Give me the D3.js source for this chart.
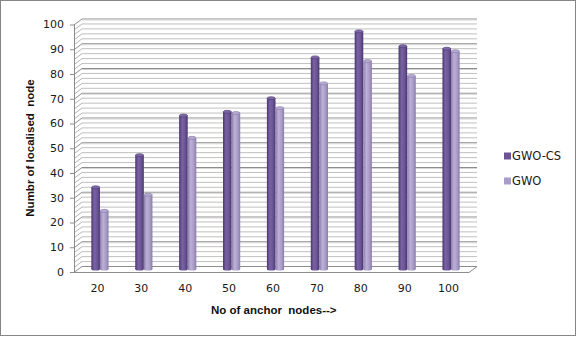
<!DOCTYPE html>
<html>
<head>
<meta charset="utf-8">
<script src="https://cdn.jsdelivr.net/npm/d3@7"></script>
<style>
    body { margin: 0; background: #fff; }
    svg { display: block; }
    .pre { white-space: pre; }
</style>
</head>
<body>
<div id="chart"></div>
<script>
// ----------------------
// Data
// ----------------------
const anchorNodes = ["20", "30", "40", "50", "60", "70", "80", "90", "100"];
const seriesNames = ["GWO-CS", "GWO"];
const gwoCs = [33, 46, 62, 63.5, 69, 85.5, 96, 90, 89];
const gwo = [23.5, 30, 53, 63, 65, 75, 84, 78, 88];
const yTicks = [0, 10, 20, 30, 40, 50, 60, 70, 80, 90, 100];

// ----------------------
// Draw 3D-ish column chart
// ----------------------
function createChart() {
    const width = 577;
    const height = 337;

    // depth of the 3D box (back wall offset)
    const dx = 8, dy = -6;

    const svg = d3.select("#chart")
        .append("svg")
        .attr("width", width)
        .attr("height", height);

    // outer border
    svg.append("rect")
        .attr("x", 0.5).attr("y", 0.5)
        .attr("width", 575).attr("height", 335)
        .attr("fill", "#fff")
        .attr("stroke", "#868686");

    // Scales (front plane)
    const x = d3.scaleBand().domain(anchorNodes).range([74, 469]);
    const y = d3.scaleLinear().domain([0, 100]).range([272, 24.5]);

    // gridlines every 2 units, majors every 10
    const gridVals = d3.range(0, 101, 2);
    const grid = svg.append("g");

    gridVals.forEach(v => {
        const major = v % 10 === 0;
        const yb = y(v) + dy;
        // back wall
        grid.append("line")
            .attr("x1", 74 + dx).attr("x2", 469 + dx)
            .attr("y1", yb + 0.5).attr("y2", yb + 0.5)
            .attr("stroke", major ? "#8c8c8c" : "#c0c0c0");
        if (major && v > 0) {
            grid.append("line")
                .attr("x1", 74 + dx).attr("x2", 469 + dx)
                .attr("y1", yb + 1.5).attr("y2", yb + 1.5)
                .attr("stroke", "#d6d6d6");
        }
        // side wall diagonal
        grid.append("line")
            .attr("x1", 74).attr("y1", y(v) + 0.5)
            .attr("x2", 74 + dx).attr("y2", yb + 0.5)
            .attr("stroke", major ? "#8c8c8c" : "#b4b4b4");
    });

    // floor front edge + right edge
    svg.append("line")
        .attr("x1", 74).attr("x2", 469)
        .attr("y1", y(0) + 0.5).attr("y2", y(0) + 0.5)
        .attr("stroke", "#8c8c8c");
    svg.append("line")
        .attr("x1", 469).attr("y1", y(0) + 0.5)
        .attr("x2", 469 + dx).attr("y2", y(0) + dy + 0.5)
        .attr("stroke", "#8c8c8c");

    // y axis line and ticks
    svg.append("line")
        .attr("x1", 74.5).attr("x2", 74.5)
        .attr("y1", y(100)).attr("y2", y(0))
        .attr("stroke", "#8c8c8c");

    const yAxis = svg.append("g");
    yTicks.forEach(t => {
        yAxis.append("line")
            .attr("x1", 70).attr("x2", 74)
            .attr("y1", y(t) + 0.5).attr("y2", y(t) + 0.5)
            .attr("stroke", "#8c8c8c");
        yAxis.append("text")
            .attr("x", 64).attr("y", y(t))
            .attr("dy", "0.35em")
            .attr("text-anchor", "end")
            .attr("font-family", "DejaVu Sans, Verdana, sans-serif")
            .attr("font-size", 11)
            .attr("fill", "#1a1a1a")
            .text(t);
    });

    // x labels
    svg.append("g").selectAll("text")
        .data(anchorNodes)
        .enter()
        .append("text")
        .attr("x", d => x(d) + x.bandwidth() / 2 + 1.5)
        .attr("y", 288)
        .attr("dy", "0.35em")
        .attr("text-anchor", "middle")
        .attr("font-family", "DejaVu Sans, Verdana, sans-serif")
        .attr("font-size", 11)
        .attr("fill", "#1a1a1a")
        .text(d => d);

    // gradients for cylinders
    const defs = svg.append("defs");
    const colors = [
        { id: "gcs", edge: "#4a3672", mid: "#7a63a3", base: "#6a5494", top: "#7e68a6", stroke: "#4f3b78" },
        { id: "g", edge: "#8a7cab", mid: "#bcb1d6", base: "#a99cc8", top: "#b7acd2", stroke: "#8b7dab" }
    ];
    colors.forEach(c => {
        const lg = defs.append("linearGradient")
            .attr("id", c.id)
            .attr("x1", "0%").attr("x2", "100%")
            .attr("y1", "0%").attr("y2", "0%");
        lg.append("stop").attr("offset", "0%").attr("stop-color", c.edge);
        lg.append("stop").attr("offset", "35%").attr("stop-color", c.mid);
        lg.append("stop").attr("offset", "70%").attr("stop-color", c.base);
        lg.append("stop").attr("offset", "100%").attr("stop-color", c.edge);
    });

    // bars (cylinders) sit at mid depth
    const barW = 8.6;
    const series = [gwoCs, gwo];
    const bars = svg.append("g");

    series.forEach((vals, s) => {
        const c = colors[s];
        const g = bars.append("g");
        const items = anchorNodes.map((d, i) => ({ cat: d, v: vals[i] }));

        const cx = d => x(d.cat) + x.bandwidth() / 2 + dx / 2 - barW + s * barW;
        const base = y(0) + dy / 2;

        // body
        g.selectAll("rect")
            .data(items)
            .enter()
            .append("rect")
            .attr("x", d => cx(d))
            .attr("y", d => y(d.v) + dy / 2)
            .attr("width", barW)
            .attr("height", d => base - (y(d.v) + dy / 2))
            .attr("fill", `url(#${c.id})`);

        // bottom ellipse
        g.selectAll("ellipse.bottom")
            .data(items)
            .enter()
            .append("ellipse")
            .attr("class", "bottom")
            .attr("cx", d => cx(d) + barW / 2)
            .attr("cy", base)
            .attr("rx", barW / 2)
            .attr("ry", 1.5)
            .attr("fill", `url(#${c.id})`);

        // top ellipse
        g.selectAll("ellipse.top")
            .data(items)
            .enter()
            .append("ellipse")
            .attr("class", "top")
            .attr("cx", d => cx(d) + barW / 2)
            .attr("cy", d => y(d.v) + dy / 2)
            .attr("rx", barW / 2 - 0.3)
            .attr("ry", 1.5)
            .attr("fill", c.top)
            .attr("stroke", c.stroke)
            .attr("stroke-width", 0.7);
    });

    // axis titles
    svg.append("text")
        .attr("class", "pre")
        .attr("transform", "translate(34, 148) rotate(-90)")
        .attr("text-anchor", "middle")
        .attr("font-family", "Liberation Sans, Arial, sans-serif")
        .attr("font-weight", "bold")
        .attr("font-size", 11.5)
        .attr("fill", "#111")
        .text("Numbr of localised  node");

    svg.append("text")
        .attr("class", "pre")
        .attr("x", 211)
        .attr("y", 314)
        .attr("font-family", "Liberation Sans, Arial, sans-serif")
        .attr("font-weight", "bold")
        .attr("font-size", 11.5)
        .attr("fill", "#111")
        .text("No of anchor  nodes-->");

    // legend
    const legend = svg.append("g");
    seriesNames.forEach((name, i) => {
        const ly = 156 + i * 25;
        legend.append("rect")
            .attr("x", 504).attr("y", ly - 3.5)
            .attr("width", 7).attr("height", 7)
            .attr("fill", colors[i].base);
        legend.append("text")
            .attr("x", 512).attr("y", ly)
            .attr("dy", "0.35em")
            .attr("font-family", "DejaVu Sans, Verdana, sans-serif")
            .attr("font-size", 11.5)
            .attr("fill", "#1a1a1a")
            .text(name);
    });
}

createChart();
</script>
</body>
</html>
